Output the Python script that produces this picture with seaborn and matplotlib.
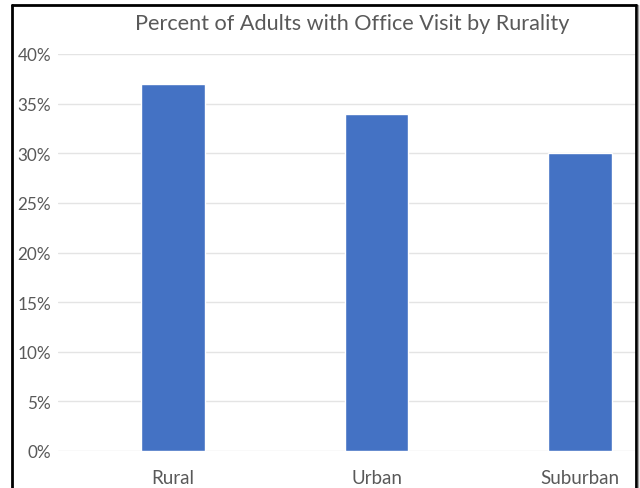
import matplotlib
matplotlib.use("Agg")
import matplotlib.pyplot as plt
import seaborn as sns
import pandas as pd
from matplotlib.ticker import FuncFormatter

categories = ["Rural", "Urban", "Suburban"]
values = [0.37, 0.34, 0.30]
title = "Percent of Adults with Office Visit by Rurality"

df = pd.DataFrame({"Rurality": categories, "Percent": values})

sns.set_theme(style="white")
plt.rcParams["font.family"] = ["Lato", "DejaVu Sans"]

W, H = 640, 489
fig = plt.figure(figsize=(6.4, 4.89), dpi=100)
# axes in pixel coords: left 58, right 637, top 55 (40%), bottom 452 (0%)
ax = fig.add_axes([58 / W, 1 - 452 / H, (637 - 58) / W, (452 - 55) / H])

sns.barplot(data=df, x="Rurality", y="Percent", color="#4472C4",
            width=0.31, ax=ax, saturation=1, zorder=3)

ax.set_ylim(0, 0.40)
ax.set_xlim(-0.565, 2.28)
ax.set_yticks([i * 0.05 for i in range(9)])
ax.yaxis.set_major_formatter(FuncFormatter(lambda v, p: f"{v*100:.0f}%"))
ax.grid(axis="y", color="#E4E4E4", linewidth=1, zorder=0)
ax.grid(axis="x", visible=False)
for s in ax.spines.values():
    s.set_visible(False)
ax.tick_params(axis="y", length=0, pad=5, labelsize=12.3, labelcolor="#595959")
ax.tick_params(axis="x", length=0, pad=13, labelsize=13.5, labelcolor="#595959")
ax.set_xlabel("")
ax.set_ylabel("")

fig.text(352 / W, 1 - 24 / H, title, ha="center", va="center",
         fontsize=15.6, color="#595959")

# outer border (left, top, right; bottom cropped)
x0, x1, y0 = 12 / W, 636 / W, 1 - 6 / H
fig.add_artist(plt.Line2D([x0, x0], [-0.01, y0], color="black", lw=2,
                          transform=fig.transFigure))
fig.add_artist(plt.Line2D([x0, x1], [y0, y0], color="black", lw=2,
                          transform=fig.transFigure))
fig.add_artist(plt.Line2D([x1, x1], [-0.01, y0], color="black", lw=2,
                          transform=fig.transFigure))
fig.add_artist(plt.Line2D([638 / W, 638 / W], [-0.01, y0], color="#A0A0A0", lw=1,
                          transform=fig.transFigure))

fig.savefig("out.png", dpi=100)
